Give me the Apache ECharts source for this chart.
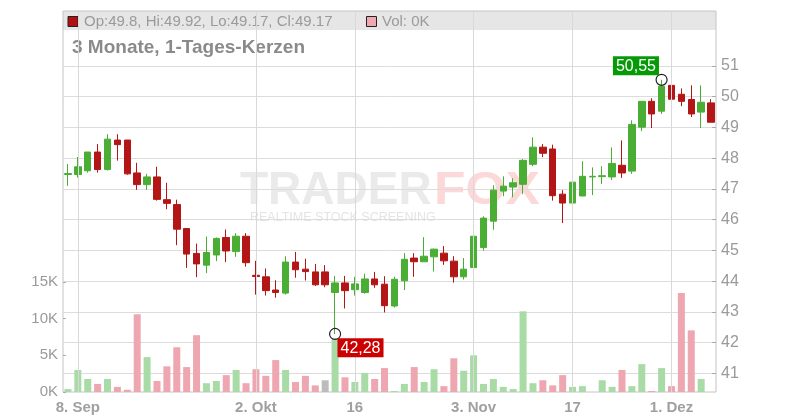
<!DOCTYPE html>
<html>
<head>
<meta charset="utf-8">
<script src="https://cdn.jsdelivr.net/npm/echarts@6/dist/echarts.min.js"></script>
<style>
html,body{margin:0;padding:0;background:#fff;}
#chart{width:800px;height:420px;}
</style>
</head>
<body>
<div id="chart"></div>
<script>
const dates = [
 '2025-09-05','2025-09-08','2025-09-09','2025-09-10','2025-09-11','2025-09-12',
 '2025-09-15','2025-09-16','2025-09-17','2025-09-18','2025-09-19',
 '2025-09-22','2025-09-23','2025-09-24','2025-09-25','2025-09-26',
 '2025-09-29','2025-09-30','2025-10-01','2025-10-02','2025-10-03',
 '2025-10-06','2025-10-07','2025-10-08','2025-10-09','2025-10-10',
 '2025-10-13','2025-10-14','2025-10-15','2025-10-16','2025-10-17',
 '2025-10-20','2025-10-21','2025-10-22','2025-10-23','2025-10-24',
 '2025-10-27','2025-10-28','2025-10-29','2025-10-30','2025-10-31',
 '2025-11-03','2025-11-04','2025-11-05','2025-11-06','2025-11-07',
 '2025-11-10','2025-11-11','2025-11-12','2025-11-13','2025-11-14',
 '2025-11-17','2025-11-18','2025-11-19','2025-11-20','2025-11-21',
 '2025-11-24','2025-11-25','2025-11-26','2025-11-27','2025-11-28',
 '2025-12-01','2025-12-02','2025-12-03','2025-12-04','2025-12-05'
];
const opens = [
 47.47,47.47,47.59,48.20,47.63,48.59,48.59,47.52,47.14,47.39,46.65,
 46.49,45.71,44.90,44.52,44.85,45.42,44.96,45.46,44.19,44.14,
 43.71,43.61,44.62,44.39,44.30,44.30,43.63,43.94,43.72,43.63,
 44.07,43.90,43.19,44.01,44.75,44.63,44.79,44.91,44.65,44.14,
 44.44,45.09,45.95,46.93,47.06,47.15,47.80,48.36,48.30,46.83,
 46.54,46.77,47.39,47.40,47.39,47.77,47.58,49.01,49.85,49.53,
 50.37,50.08,49.91,49.50,49.8
];
const highs = [
 47.81,48.04,48.20,48.46,48.78,48.78,48.59,47.85,47.49,47.72,47.20,
 46.65,45.71,45.22,45.45,45.42,45.68,45.56,45.56,44.66,44.41,
 44.03,44.81,44.95,44.73,44.56,44.52,44.17,44.17,44.14,44.24,
 44.30,44.16,44.14,44.91,44.91,45.43,45.06,45.14,44.81,44.75,
 45.69,46.11,47.12,47.41,47.35,47.97,48.68,48.46,48.44,46.96,
 47.44,47.90,47.70,47.74,48.35,48.58,49.23,49.85,49.95,50.55,
 50.47,50.27,50.37,50.37,49.92
];
const lows = [
 47.10,47.37,47.53,47.53,47.60,47.92,47.46,46.97,46.97,46.62,46.34,
 45.17,44.43,44.13,44.26,44.65,44.62,44.79,44.47,43.56,43.53,
 43.46,43.56,44.11,44.02,43.84,43.80,42.28,43.11,43.53,43.59,
 43.78,42.98,43.14,43.71,44.14,44.63,44.31,44.53,43.95,44.05,
 44.44,44.99,45.67,46.76,46.73,46.83,47.74,48.03,46.62,45.89,
 46.35,46.77,46.80,47.16,47.29,47.36,47.49,48.88,48.98,49.44,
 49.73,49.69,49.34,48.98,49.17
];
const closes = [
 47.50,47.72,48.20,47.63,48.62,48.44,47.49,47.14,47.39,46.66,46.53,
 45.69,44.88,44.56,44.93,45.39,44.98,45.46,44.60,44.15,43.69,
 43.63,44.62,44.37,44.31,43.88,43.88,43.94,43.69,43.91,44.07,
 43.88,43.20,44.06,44.71,44.63,44.81,45.04,44.66,44.14,44.39,
 45.46,46.05,46.96,47.09,47.20,47.93,48.36,48.16,46.78,46.54,
 47.22,47.41,47.41,47.43,47.83,47.52,49.10,49.85,49.44,50.34,
 49.92,49.85,49.44,49.82,49.17
];
const volumes = [
 400,3000,1770,1100,1770,700,300,10600,4760,1500,3500,
 6100,3400,7750,1200,1500,2300,3000,1200,3100,2200,
 4350,3000,1360,2200,900,1600,7300,2000,1360,2600,
 1770,3260,140,1100,3400,1360,3100,800,4600,2900,
 5000,1100,1770,700,400,11000,1200,1600,900,2300,
 700,800,0,1600,700,3000,800,3800,140,3260,
 800,13500,8400,1770,0
];
const tickDates = ['2025-09-08','2025-10-02','2025-10-16','2025-11-03','2025-11-17','2025-12-01'];
const tickLabels = ['8. Sep','2. Okt','16','3. Nov','17','1. Dez'];
const priceTicks = {min: 41, max: 51, interval: 1};
const volTicks = {min: 0, max: 15000, interval: 5000};

const UP = '#4aad34', DOWN = '#b31616';
const VUP = '#a9dba6', VDOWN = '#eea6b0', VFLAT = '#bcbcbc';
const FONT = "'Liberation Sans', Arial, sans-serif";

const candleData = dates.map((d, i) => [opens[i], closes[i], lows[i], highs[i]]);
const volData = volumes.map((v, i) => {
  let c;
  if (i === 0) c = closes[0] >= opens[0] ? VUP : VDOWN;
  else if (closes[i] > closes[i - 1]) c = VUP;
  else if (closes[i] < closes[i - 1]) c = VDOWN;
  else c = VFLAT;
  return {value: v, itemStyle: {color: c}};
});

let minI = 0, maxI = 0;
lows.forEach((v, i) => { if (v < lows[minI]) minI = i; });
highs.forEach((v, i) => { if (v > highs[maxI]) maxI = i; });
const fmt = v => v.toFixed(2).replace('.', ',');

const last = dates.length - 1;
const legendText = 'Op:' + opens[last] + ', Hi:' + highs[last] + ', Lo:' + lows[last] + ', Cl:' + closes[last];
const volText = 'Vol: ' + Math.round(volumes[last] / 1000) + 'K';

const L = 63, R = 84;
const chart = echarts.init(document.getElementById('chart'), null, {renderer: 'canvas'});
chart.setOption({
  animation: false,
  backgroundColor: '#fff',
  textStyle: {fontFamily: FONT},
  graphic: [
    {type: 'rect', z: -1, shape: {x: L, y: 11, width: 800 - L - R, height: 19}, style: {fill: '#e6e6e6'}},
    {type: 'rect', z: 5, shape: {x: 68, y: 16.5, width: 10, height: 10}, style: {fill: '#b01010', stroke: '#222', lineWidth: 1}},
    {type: 'text', z: 5, x: 84, y: 21.5, style: {text: legendText, font: '15px ' + FONT, fill: '#9a9a9a', verticalAlign: 'middle'}},
    {type: 'rect', z: 5, shape: {x: 366.5, y: 16.5, width: 10, height: 10}, style: {fill: '#f0a8b0', stroke: '#222', lineWidth: 1}},
    {type: 'text', z: 5, x: 382, y: 21.5, style: {text: volText, font: '15px ' + FONT, fill: '#9a9a9a', verticalAlign: 'middle'}},
    {type: 'text', z: 5, x: 72, y: 47.5, style: {text: '3 Monate, 1-Tages-Kerzen', font: 'bold 19px ' + FONT, fill: '#8a8a8a', verticalAlign: 'middle'}},
    {type: 'text', z: -1, x: 240, y: 191, style: {text: 'TRADER', font: 'bold 46px ' + FONT, fill: '#eaeaea', verticalAlign: 'middle'}},
    {type: 'text', z: -1, x: 434, y: 191, scaleX: 1.12, style: {text: 'FOX', font: 'bold 46px ' + FONT, fill: '#fcd8d8', verticalAlign: 'middle'}},
    {type: 'text', z: -1, x: 250, y: 218, style: {text: 'REALTIME STOCK SCREENING', font: '12.5px ' + FONT, fill: '#e4e4e4', verticalAlign: 'middle'}}
  ],
  grid: [
    {left: L, right: R, top: 11, bottom: 28, show: true, borderColor: '#c4c4c4', borderWidth: 1, backgroundColor: 'transparent'},
    {left: L, right: R, top: 66, bottom: 46.7},
    {left: L, right: R, top: 282, bottom: 28}
  ],
  xAxis: [
    {gridIndex: 0, type: 'category', data: dates, boundaryGap: true,
     axisLine: {show: false}, axisTick: {show: false}, splitLine: {show: false},
     axisLabel: {interval: (i, v) => tickDates.indexOf(v) >= 0,
                 formatter: v => tickLabels[tickDates.indexOf(v)],
                 color: '#a0a0a0', fontSize: 15, fontWeight: 'bold', margin: 8, hideOverlap: false}},
    {gridIndex: 1, type: 'category', data: dates, boundaryGap: true, show: false},
    {gridIndex: 2, type: 'category', data: dates, boundaryGap: true, show: false}
  ],
  yAxis: [
    {gridIndex: 0, type: 'value', min: 0, max: 1, show: false},
    {gridIndex: 1, type: 'value', position: 'right', min: priceTicks.min, max: priceTicks.max, interval: priceTicks.interval,
     axisLine: {show: false},
     axisTick: {show: true, inside: true, length: 4, lineStyle: {color: '#aaa'}},
     axisLabel: {color: '#9a9a9a', fontSize: 16, margin: 5},
     splitLine: {show: true, lineStyle: {color: '#dcdcdc', width: 1}}},
    {gridIndex: 2, type: 'value', position: 'left', min: volTicks.min, max: volTicks.max, interval: volTicks.interval,
     axisLine: {show: false},
     axisTick: {show: true, inside: true, length: 3, lineStyle: {color: '#aaa'}},
     axisLabel: {color: '#9a9a9a', fontSize: 15, margin: 5, formatter: v => (v / 1000) + 'K'},
     splitLine: {show: false}}
  ],
  series: [
    {type: 'line', xAxisIndex: 0, yAxisIndex: 0, data: dates.map(() => null), showSymbol: false,
     lineStyle: {opacity: 0}, silent: true, z: 1,
     markLine: {silent: true, symbol: ['none', 'none'], label: {show: false},
                lineStyle: {color: '#d9d9d9', width: 1, type: 'solid'},
                data: tickDates.map(d => ({xAxis: d}))}},
    {type: 'bar', xAxisIndex: 2, yAxisIndex: 2, data: volData, barWidth: 7, z: 2},
    {type: 'candlestick', xAxisIndex: 1, yAxisIndex: 1, data: candleData, barWidth: 7, z: 3,
     itemStyle: {color: UP, color0: DOWN, borderColor: UP, borderColor0: DOWN, borderWidth: 1}},
    {type: 'scatter', xAxisIndex: 1, yAxisIndex: 1, z: 10, symbol: 'circle', symbolSize: 11,
     itemStyle: {color: 'rgba(255,255,255,0)', borderColor: '#222', borderWidth: 1.2, opacity: 1},
     data: [
       {value: [minI, lows[minI]],
        label: {show: true, formatter: () => fmt(lows[minI]), position: [8.5, 10.5], align: 'left', verticalAlign: 'top',
                color: '#fff', fontSize: 16, lineHeight: 16, backgroundColor: '#cc0000', padding: [2, 3, 1, 3], opacity: 1}},
       {value: [maxI, highs[maxI]],
        label: {show: true, formatter: () => fmt(highs[maxI]), position: [3.5, 1.5], align: 'right', verticalAlign: 'bottom',
                color: '#fff', fontSize: 16, lineHeight: 16, backgroundColor: '#079a07', padding: [2, 3, 1, 3], opacity: 1}}
     ]}
  ]
});
</script>
</body>
</html>
